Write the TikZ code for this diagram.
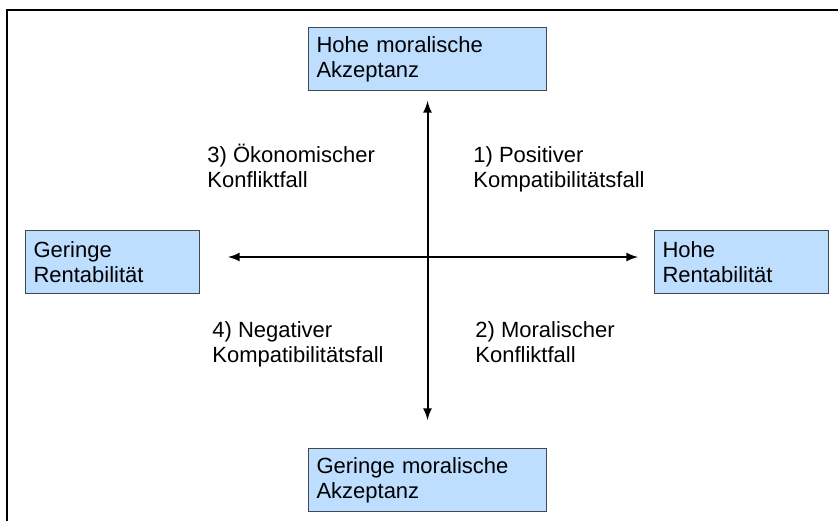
\documentclass[tikz,border=0pt]{standalone}
\usepackage{fontspec}
\setmainfont{Liberation Sans}
\usetikzlibrary{arrows}

\definecolor{boxblau}{RGB}{189,222,255}
\definecolor{randgrau}{RGB}{64,72,80}

\tikzstyle{block} = [rectangle, draw=randgrau, fill=boxblau, line width=0.5pt,
     anchor=north west, inner xsep=4pt, align=left, minimum height=31.5pt]
\tikzstyle{line} = [draw, latex-latex, line width=1pt]
\tikzstyle{fall} = [anchor=base west, inner sep=0pt, align=left]

\begin{document}
\begin{tikzpicture}[x=0.5pt, y=-0.5pt, font=\fontsize{11pt}{12.5pt}\selectfont]
    \useasboundingbox (0,0) rectangle (838,520);
    % Rahmen
    \draw [line width=1pt] (7,530) -- (7,10) -- (848,10);

    % Place nodes
    \node [block, text width=111pt] (hohe_akzeptanz) at (308,27) {Hohe moralische\\Akzeptanz};
    \node [block, text width=111pt] (geringe_akzeptanz) at (308,448) {Geringe moralische\\Akzeptanz};
    \node [block, text width=79pt] (geringe_rentabilitaet) at (25,230) {Geringe\\Rentabilität};
    \node [block, text width=79pt] (hohe_rentabilitaet) at (654,230) {Hohe\\Rentabilität};
    \coordinate (mitte) at (427,257);

    % base = letzte Zeile
    \node [fall] (fall_eins) at (473,187) {1) Positiver\\Kompatibilitätsfall};
    \node [fall] (fall_zwei) at (475,362) {2) Moralischer\\Konfliktfall};
    \node [fall] (fall_drei) at (207,187) {3) Ökonomischer\\Konfliktfall};
    \node [fall] (fall_vier) at (212,362) {4) Negativer\\Kompatibilitätsfall};

    % Draw edges
    \path [line, shorten <=5pt, shorten >=14pt] (hohe_akzeptanz.south) -- (geringe_akzeptanz.north);
    \path [line, shorten <=14pt, shorten >=8pt] (geringe_rentabilitaet.east |- mitte) -- (hohe_rentabilitaet.west |- mitte);

\end{tikzpicture}
\end{document}
